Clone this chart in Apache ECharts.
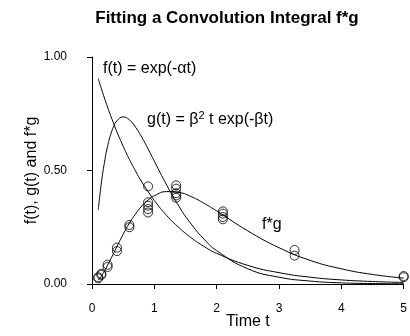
<!DOCTYPE html>
<html>
<head>
<meta charset="utf-8">
<script src="https://cdn.jsdelivr.net/npm/echarts@6/dist/echarts.min.js"></script>
<style>html,body{margin:0;padding:0;background:#fff;}#c{width:410px;height:336px;}</style>
</head>
<body>
<div id="c"></div>
<script>
// curve sample times and values
var tGrid    = [0.1, 0.15, 0.2, 0.25, 0.3, 0.35, 0.4, 0.5, 0.6, 0.7, 0.8, 0.9, 1.0, 1.2, 1.4, 1.6, 1.8, 2.0, 2.5, 3.0, 3.5, 4.0, 4.5, 5.0];
var fValues  = [0.905, 0.861, 0.819, 0.779, 0.741, 0.705, 0.670, 0.607, 0.549, 0.497, 0.449, 0.407, 0.368, 0.301, 0.247, 0.202, 0.165, 0.135, 0.082, 0.050, 0.030, 0.018, 0.011, 0.007];
var gValues  = [0.327, 0.444, 0.536, 0.607, 0.659, 0.695, 0.719, 0.736, 0.723, 0.690, 0.646, 0.595, 0.541, 0.435, 0.340, 0.261, 0.197, 0.147, 0.067, 0.030, 0.013, 0.005, 0.002, 0.001];
var fgValues = [0.017, 0.035, 0.057, 0.083, 0.110, 0.137, 0.165, 0.219, 0.268, 0.309, 0.344, 0.370, 0.389, 0.407, 0.403, 0.384, 0.355, 0.322, 0.234, 0.160, 0.104, 0.067, 0.042, 0.026];
// observed data points
var obsT = [0.1, 0.1, 0.15, 0.15, 0.25, 0.25, 0.4, 0.4, 0.6, 0.6, 0.9, 0.9, 0.9, 0.9, 0.9, 1.35, 1.35, 1.35, 1.35, 1.35, 2.1, 2.1, 2.1, 2.1, 3.25, 3.25, 5.0, 5.0];
var obsY = [0.025, 0.03, 0.04, 0.045, 0.075, 0.085, 0.145, 0.16, 0.25, 0.26, 0.43, 0.36, 0.345, 0.33, 0.315, 0.435, 0.42, 0.40, 0.39, 0.38, 0.32, 0.31, 0.295, 0.285, 0.15, 0.125, 0.035, 0.03];
var xTicks = [0, 1, 2, 3, 4, 5];
var yTicks = [0, 0.5, 1.0];

function pairs(xs, ys) { return xs.map(function (x, i) { return [x, ys[i]]; }); }

var FONT = 'Liberation Sans, Arial, sans-serif';
var chart = echarts.init(document.getElementById('c'), null, {renderer: 'canvas'});
chart.setOption({
  animation: false,
  backgroundColor: '#fff',
  grid: {left: 92, right: 4, top: 57, bottom: 52},
  xAxis: {
    type: 'value', min: xTicks[0], max: xTicks[xTicks.length - 1], interval: 1, offset: 10,
    name: 'Time t', nameLocation: 'middle', nameGap: 20, nameMoveOverlap: false,
    nameTextStyle: {fontFamily: FONT, fontSize: 16, color: '#000'},
    axisLine: {show: true, lineStyle: {color: '#000', width: 1}},
    axisTick: {show: true, length: 5, inside: false, lineStyle: {color: '#000'}},
    axisLabel: {fontFamily: FONT, fontSize: 12, color: '#000', margin: 9},
    splitLine: {show: false}
  },
  yAxis: {
    type: 'value', min: yTicks[0], max: yTicks[yTicks.length - 1], interval: 0.5, offset: 15,
    name: 'f(t), g(t) and f*g', nameLocation: 'middle', nameGap: 37, nameMoveOverlap: false,
    nameTextStyle: {fontFamily: FONT, fontSize: 16, color: '#000'},
    axisLine: {show: true, lineStyle: {color: '#000', width: 1}},
    axisTick: {show: true, length: 5, inside: false, lineStyle: {color: '#000'}},
    axisLabel: {fontFamily: FONT, fontSize: 12, color: '#000', margin: 10,
      formatter: function (v) { return v.toFixed(2); }},
    splitLine: {show: false}
  },
  graphic: [
    {type: 'text', x: 227, y: 18, style: {text: 'Fitting a Convolution Integral f*g', font: 'bold 17px ' + FONT, fill: '#000', textAlign: 'center', textVerticalAlign: 'middle'}},
    {type: 'text', x: 103, y: 69, style: {text: 'f(t) = exp(-\u03b1t)', font: '16px ' + FONT, fill: '#000', textAlign: 'left', textVerticalAlign: 'middle'}},
    {type: 'text', x: 147, y: 119, style: {
      text: '{n|g(t) = \u03b2}{s|2}{n| t exp(-\u03b2t)}',
      rich: {
        n: {fontFamily: FONT, fontSize: 16, fill: '#000', color: '#000', verticalAlign: 'bottom', lineHeight: 18},
        s: {fontFamily: FONT, fontSize: 11, fill: '#000', color: '#000', verticalAlign: 'top', lineHeight: 18}
      },
      textAlign: 'left', textVerticalAlign: 'middle'}},
    {type: 'text', x: 262, y: 225, style: {text: 'f*g', font: '16px ' + FONT, fill: '#000', textAlign: 'left', textVerticalAlign: 'middle'}}
  ],
  series: [
    {type: 'line', data: pairs(tGrid, fValues), smooth: true, showSymbol: false, symbol: 'none',
      lineStyle: {color: '#000', width: 1}, silent: true},
    {type: 'line', data: pairs(tGrid, gValues), smooth: true, showSymbol: false, symbol: 'none',
      lineStyle: {color: '#000', width: 1}, silent: true},
    {type: 'line', data: pairs(tGrid, fgValues), smooth: true, showSymbol: false, symbol: 'none',
      lineStyle: {color: '#000', width: 1}, silent: true},
    {type: 'scatter', data: pairs(obsT, obsY), symbol: 'circle', symbolSize: 9, clip: false,
      itemStyle: {color: 'rgba(255,255,255,0)', borderColor: '#000', borderWidth: 1}, silent: true}
  ]
});
</script>
</body>
</html>
